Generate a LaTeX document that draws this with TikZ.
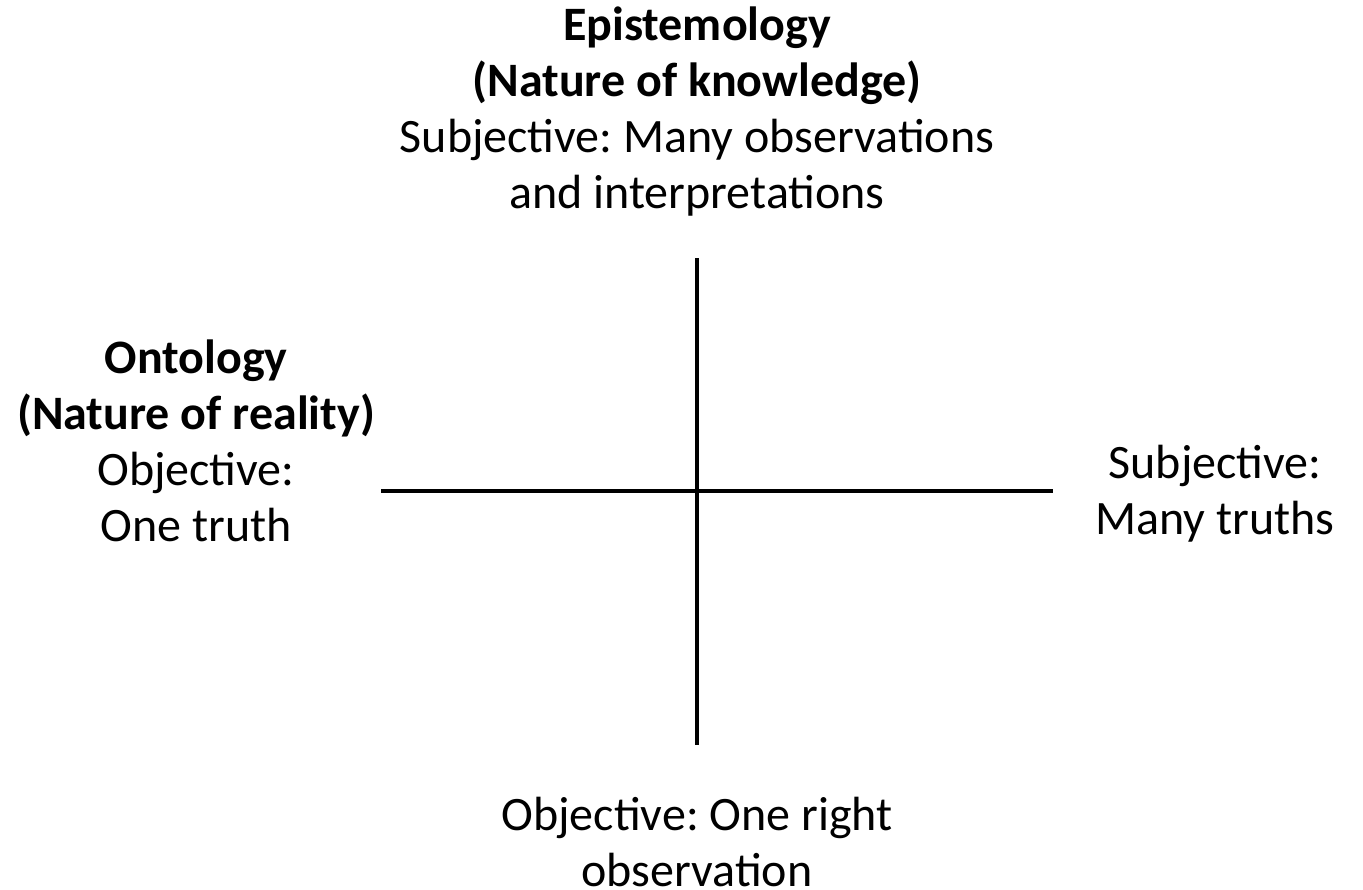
\documentclass[tikz,border=0pt]{standalone}
\usepackage{fontspec}
\setmainfont{Carlito}
\usepackage{tikz}
\frenchspacing

\begin{document}
\begin{tikzpicture}[x=0.75pt, y=-0.75pt,
  axis/.style={line width=2.3pt},
  lbl/.style={align=center, inner sep=0pt, font=\fontsize{36}{42}\selectfont}]
  \useasboundingbox (0,0) rectangle (1363,889);

  % axes
  \coordinate (T) at (697,258);
  \coordinate (B) at (697,745);
  \coordinate (L) at (381,491);
  \coordinate (R) at (1053,491);

  \draw[axis] (L) -- (R);
  \draw[axis] (T) -- (B);

  % labels
  \node[lbl] (epist) at (697,112) {\textbf{Epistemology}\\ \textbf{(Nature of knowledge)}\\ Subjective: Many observations\\ and interpretations};
  \node[lbl] (onto) at (196,441) {\textbf{Ontology}\\ \textbf{(Nature of reality)}\\ Objective:\\ One truth};
  \node[lbl] (subj) at (1215,494) {Subjective:\\ Many truths};
  \node[lbl] (obj) at (697,842) {Objective: One right\\ observation};
\end{tikzpicture}
\end{document}
